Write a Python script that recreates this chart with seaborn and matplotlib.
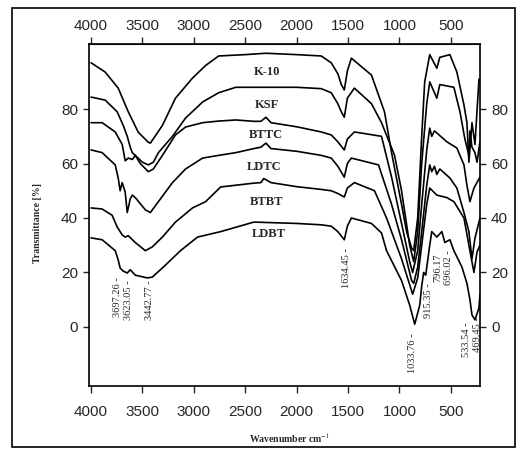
import numpy as np
import pandas as pd
import matplotlib.pyplot as plt
import seaborn as sns
from matplotlib.patches import Rectangle

samples = ["K-10", "KSF", "BTTC", "LDTC", "BTBT", "LDBT"]

k10_wn = [4000, 3863, 3736, 3638, 3541, 3443, 3423, 3306, 3179, 3013, 2886, 2759, 2500, 2300,
          2000, 1761, 1664, 1600, 1566, 1537, 1507, 1468, 1273, 1146, 1077, 980, 931, 882, 862,
          823, 784, 755, 706, 637, 608, 510, 442, 373, 344, 325, 295, 266, 227, 217]
k10_t = [97, 93.6, 87.7, 79, 71.5, 67.8, 67.5, 74, 84, 91.4, 96, 99.5, 100, 100.5,
         100, 99.5, 97, 93, 89, 87, 94, 98.7, 92.5, 79, 64, 45, 35, 29, 28,
         40, 70, 90, 100, 95, 99, 100, 93.6, 81.5, 75, 60.5, 75, 67, 91, 91]

ksf_wn = [4000, 3863, 3746, 3687, 3648, 3619, 3599, 3570, 3501, 3443, 3394, 3345, 3208, 3081,
          2915, 2759, 2592, 2300, 2000, 1761, 1664, 1600, 1566, 1537, 1507, 1439, 1273, 1175,
          1048, 980, 901, 862, 823, 784, 735, 706, 637, 608, 471, 412, 364, 325, 315, 295, 266,
          246, 217]
ksf_t = [84.4, 83.3, 79, 74, 70, 66, 64, 63, 60.5, 59.5, 60.5, 64, 70, 76.7,
         82.6, 86, 88, 88, 88, 87.5, 86, 82, 79, 77, 84, 87.7, 82, 75,
         63, 50, 30, 24, 35, 60, 82, 90, 84, 89, 88, 79, 69, 63, 72, 66, 64,
         60.5, 68]

bttc_wn = [4000, 3892, 3765, 3697, 3668, 3638, 3599, 3570, 3521, 3443, 3394, 3306, 3179, 3081,
           2915, 2759, 2592, 2416, 2348, 2299, 2250, 2000, 1761, 1664, 1600, 1537, 1507, 1439,
           1175, 1077, 980, 901, 872, 823, 784, 735, 706, 686, 660, 540, 442, 373, 344, 315,
           276, 217]
bttc_t = [75, 75, 71.6, 67, 61, 62, 61.5, 63, 60, 57, 58, 63, 70.5, 73.4,
          75, 75.6, 76, 75.5, 75.5, 77, 75, 73.5, 71.6, 70.5, 68, 65, 69, 71.6,
          70, 55, 38, 24, 20, 28, 45, 65, 73, 70, 72, 68, 65.7, 59.5, 52, 46,
          51, 55]

ldtc_wn = [4000, 3892, 3765, 3736, 3717, 3697, 3668, 3648, 3619, 3599, 3570, 3472, 3423, 3345,
           3208, 3081, 2915, 2759, 2592, 2416, 2348, 2299, 2250, 2000, 1761, 1664, 1600, 1537,
           1507, 1468, 1204, 1077, 980, 882, 862, 823, 784, 735, 706, 686, 660, 637, 608, 510,
           442, 373, 325, 295, 266, 217]
ldtc_t = [65, 64, 59.5, 54.7, 50, 53, 49.5, 42, 47, 48.4, 47.5, 43, 42, 46,
          53, 58, 62, 63, 64, 65.5, 66, 67.5, 65.5, 64.5, 63, 62, 59, 55,
          60, 62, 59.5, 45, 32, 17, 16, 22, 35, 52, 59.5, 57, 59, 56, 58, 54.7,
          51, 42, 35, 25, 32.6, 40]

btbt_wn = [4000, 3892, 3795, 3746, 3697, 3668, 3638, 3570, 3472, 3404, 3306, 3179, 3013, 2886,
           2739, 2416, 2348, 2320, 2250, 2000, 1761, 1664, 1600, 1537, 1507, 1439, 1243, 1126,
           980, 872, 823, 784, 735, 706, 637, 540, 471, 373, 325, 276, 246, 217]
btbt_t = [43.7, 43.3, 41, 36.7, 33.8, 33, 33.5, 31, 28, 29.4, 33, 38.5, 43.7, 46,
          51.4, 52.8, 53, 54.5, 53, 51.5, 50.5, 50, 49, 47.7, 51, 53, 50, 40,
          25, 12, 18, 30, 45, 51, 48.4, 47.5, 46, 40, 30, 20, 27.5, 30]

ldbt_wn = [4000, 3892, 3765, 3736, 3717, 3687, 3648, 3619, 3570, 3453, 3404, 3296, 3130, 2964,
           2739, 2416, 2000, 1761, 1664, 1600, 1537, 1507, 1468, 1273, 1175, 1126, 980, 901,
           852, 803, 784, 765, 745, 706, 686, 637, 588, 559, 510, 471, 393, 344, 315, 295,
           266, 227, 217]
ldbt_t = [32.7, 32, 28, 24.6, 21.6, 20.5, 19.8, 21, 19, 18, 18.3, 22, 28, 33,
          35, 38.5, 38, 37.5, 37, 35, 32, 37, 40, 38, 34.5, 28, 17, 8,
          1, 8, 15, 20, 19, 30, 35, 33, 35, 31, 32, 28, 22, 16, 10, 4.4,
          2.6, 7, 12]

# curve names written on the chart
name_wn = [2290, 2290, 2300, 2320, 2290, 2270]
name_t = [93.6, 81.5, 70.5, 58.7, 45.9, 34]

# peak annotations
peak_labels = ["3697.26 -", "3623.05 -", "3442.77 -", "1634.45 -", "1033.76 -",
               "915.35 -", "796.17", "696.02 -", "533.54 -", "469.45 -"]
peak_wn = [3746, 3638, 3433, 1517, 872, 716, 628, 520, 344, 246]
peak_t = [18.3, 17.2, 17.2, 29, -2.2, 16, 27, 28, 1.8, 3.7]

x_ticks = [4000, 3500, 3000, 2500, 2000, 1500, 1000, 500]
y_ticks = [0, 20, 40, 60, 80]

rows = []
for name, wn, t in zip(samples,
                       [k10_wn, ksf_wn, bttc_wn, ldtc_wn, btbt_wn, ldbt_wn],
                       [k10_t, ksf_t, bttc_t, ldtc_t, btbt_t, ldbt_t]):
    for w, v in zip(wn, t):
        rows.append({"sample": name, "wavenumber": w, "transmittance": v})
df = pd.DataFrame(rows)

sns.set_style("ticks")
plt.rcParams["font.family"] = ["Liberation Sans", "DejaVu Sans"]
plt.rcParams["mathtext.fontset"] = "stix"

W, H = 526, 451
fig = plt.figure(figsize=(W / 100, H / 100), dpi=100)
ax = fig.add_axes([89 / W, 1 - 386 / H, (480 - 89) / W, (386 - 44) / H])

sns.lineplot(data=df, x="wavenumber", y="transmittance", hue="sample", units="sample",
             estimator=None, sort=False, palette={s: "black" for s in samples},
             legend=False, linewidth=1.2, ax=ax)

ax.set_xlim(4020, 217)
ax.set_ylim(-21.7, 103.9)
ax.set_xticks(x_ticks)
ax.set_yticks(y_ticks)
ax.set_xlabel("")
ax.set_ylabel("")
for sp in ax.spines.values():
    sp.set_visible(True)
    sp.set_linewidth(1.2)
    sp.set_color("black")
ax.tick_params(axis="x", direction="out", length=5, width=1, pad=9, labelsize=11)
ax.tick_params(axis="y", direction="out", length=4, width=1, pad=4, labelsize=11,
               right=True, labelright=True)

top = ax.secondary_xaxis("top")
top.set_xticks(x_ticks)
top.tick_params(direction="out", length=5, width=1, pad=3, labelsize=11)

serif = ["Liberation Serif", "DejaVu Serif"]
for name, x, y in zip(samples, name_wn, name_t):
    ax.text(x, y, name, ha="center", va="center", fontsize=9, family=serif,
            fontweight="bold")
for lab, x, y in zip(peak_labels, peak_wn, peak_t):
    ax.text(x, y, lab, rotation=90, ha="center", va="top", fontsize=7.5, family=serif)

fig.text(37 / W, 1 - 223 / H, "Transmittance [%]", rotation=90, ha="center", va="center",
         fontsize=7, family=serif, fontweight="bold")
fig.text(290 / W, 1 - 438 / H, "Wavenumber cm$^{-1}$", ha="center", va="center",
         fontsize=7, family=serif, fontweight="bold")

fig.patches.append(Rectangle((12 / W, 1 - 447 / H), (515 - 12) / W, (447 - 8) / H,
                             transform=fig.transFigure, fill=False, lw=1.2, ec="black"))

fig.savefig("out.png", dpi=100)
